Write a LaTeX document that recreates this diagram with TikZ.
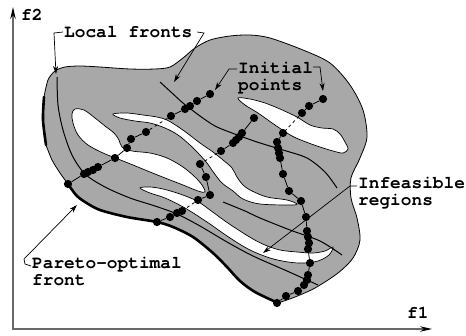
\documentclass[tikz,border=0pt]{standalone}
\usepackage{fontspec}
\setmonofont{texgyrecursor}[Extension=.otf, UprightFont=*-regular, BoldFont=*-bold]
\usetikzlibrary{arrows.meta}
\definecolor{feas}{RGB}{168,168,168}
\definecolor{axisgray}{RGB}{105,105,105}
\begin{document}
\begin{tikzpicture}[x=1pt,y=-1pt,
  lbl/.style={font=\ttfamily\bfseries\fontsize{17.8}{17}\selectfont, inner sep=0pt, align=left},
  dot/.style={circle, fill=black, inner sep=0pt, minimum size=8.2pt},
  chain/.style={line width=0.8pt},
  jump/.style={line width=0.8pt, dash pattern=on 3pt off 3pt},
  hole/.style={fill=white, draw=black, line width=0.7pt},
  lfront/.style={line width=1pt},
  ptr/.style={line width=0.7pt, -{Stealth[length=8pt,width=5pt]}},
  axis/.style={draw=axisgray, line width=1.2pt, -{Stealth[length=12pt,width=5.5pt,black]}},
  pfront/.style={line width=2.6pt, line cap=round}
]
\useasboundingbox (0,0) rectangle (466,335);

% feasible region
\filldraw[fill=feas, draw=black, line width=0.8pt]
  plot[smooth] coordinates {(68,184) (76,195) (85,202) (100,210) (127,217) (157,222) (173,227) (193,237) (213,253) (227,267) (240,281) (255,292) (278,303)}
  -- plot[smooth] coordinates {(278,303) (295,297) (315,288) (338,273) (353,258) (360,240) (357,218) (351,198) (351,178) (360,158) (367,137) (363,110) (350,85) (330,63) (303,50) (270,38) (250,35) (230,36) (210,40) (195,48) (183,58) (170,67) (155,69) (130,69) (100,67) (80,66) (65,67) (55,71) (48,80) (44,97)}
  -- plot[smooth] coordinates {(44,97) (43,120) (46,145)}
  -- plot[smooth] coordinates {(46,145) (52,160) (60,173) (68,184)}
  -- cycle;
\draw[pfront] plot[smooth] coordinates {(68,184) (76,195) (85,202) (100,210) (127,217) (157,222) (173,227) (193,237) (213,253) (227,267) (240,281) (255,292) (278,303)};
\draw[pfront] plot[smooth] coordinates {(44,97) (43,120) (46,145)};

% infeasible regions
\draw[hole] plot[smooth cycle, tension=0.55] coordinates {(75,109) (84,110) (95,118) (105,126) (114,133) (119,140) (122,147) (132,151) (150,153) (167,158) (183,167) (195,177) (202,185) (205,192) (198,191) (183,185) (165,178) (150,172) (133,165) (118,159) (103,153) (88,145) (78,135) (73,123) (72,114)};
\draw[hole] plot[smooth cycle, tension=0.55] coordinates {(113,114) (127,113) (143,115) (157,117) (167,120) (177,126) (187,133) (200,143) (213,152) (223,160) (232,168) (237,177) (243,185) (252,191) (267,197) (287,200) (297,204) (290,205) (260,204) (243,199) (233,191) (222,183) (214,173) (207,163) (199,154) (190,145) (178,135) (165,128) (150,123) (135,121) (120,118)};
\draw[hole] plot[smooth cycle, tension=0.55] coordinates {(140,188) (150,187) (163,189) (180,194) (197,201) (210,210) (225,221) (240,231) (253,239) (265,245) (280,250) (297,252) (313,253) (325,251) (333,247) (329,255) (318,261) (303,263) (288,262) (270,258) (250,250) (230,238) (207,222) (185,208) (165,198) (150,193)};
\draw[hole] plot[smooth cycle, tension=0.55] coordinates {(238,98) (250,99) (265,103) (280,109) (297,117) (310,125) (322,128) (333,129) (340,134) (345,142) (348,149) (343,153) (333,151) (320,147) (306,142) (292,136) (275,125) (258,113) (245,105)};

% local fronts
\draw[lfront] plot[smooth] coordinates {(57,77) (58,105) (63,130) (72,155) (85,174) (105,187) (130,198) (155,206) (177,214) (200,226) (227,242) (253,256) (287,271) (318,285)};
\draw[lfront] plot[smooth] coordinates {(160,82) (172,93) (183,103) (200,116) (215,126) (232,133) (257,142) (283,150) (307,158) (325,172) (337,188)};
\draw[lfront] plot[smooth] coordinates {(223,202) (245,211) (260,218) (290,230) (320,241) (342,255)};

% chain 1
\node[dot] (a1) at (210,94) {};
\node[dot] (a2) at (197,101) {};
\node[dot] (a3) at (190,106) {};
\node[dot] (a4) at (185,109) {};
\node[dot] (a5) at (171,116) {};
\node[dot] (a6) at (146,132) {};
\node[dot] (a7) at (131,139) {};
\node[dot] (a8) at (127,148) {};
\node[dot] (a9) at (115,158) {};
\node[dot] (a10) at (98,167) {};
\node[dot] (a11) at (93,170) {};
\node[dot] (a12) at (88,172) {};
\node[dot] (a13) at (84,174) {};
\node[dot] (a14) at (68,184) {};
\draw[chain] (a1)--(a2)--(a3)--(a4)--(a5);
\draw[jump] (a5)--(a6);
\draw[chain] (a6)--(a7)--(a8)--(a9)--(a10)--(a11)--(a12)--(a13)--(a14);

% chain 2
\node[dot] (b1) at (323,99) {};
\node[dot] (b2) at (309,106) {};
\node[dot] (b3) at (302,113) {};
\node[dot] (b4) at (283,133) {};
\node[dot] (b5) at (277,142) {};
\node[dot] (b6) at (278,148) {};
\node[dot] (b7) at (279,153) {};
\node[dot] (b8) at (280,158) {};
\node[dot] (b9) at (283,174) {};
\node[dot] (b10) at (289,191) {};
\node[dot] (b11) at (301,201) {};
\node[dot] (b12) at (306,217) {};
\node[dot] (b13) at (307,231) {};
\node[dot] (b14) at (308,237) {};
\node[dot] (b15) at (309,243) {};
\node[dot] (b16) at (308,249) {};
\node[dot] (b17) at (310,263) {};
\node[dot] (b18) at (308,275) {};
\node[dot] (b19) at (307,280) {};
\node[dot] (b20) at (304,285) {};
\node[dot] (b21) at (298,291) {};
\node[dot] (b22) at (286,296) {};
\node[dot] (b23) at (277,303) {};
\draw[chain] (b1)--(b2)--(b3);
\draw[jump] (b3)--(b4);
\draw[chain] (b4)--(b5)--(b6)--(b7)--(b8)--(b9)--(b10)--(b11)--(b12)--(b13)--(b14)--(b15)--(b16)--(b17)--(b18)--(b19)--(b20)--(b21)--(b22)--(b23);

% chain 3
\node[dot] (c1) at (254,118) {};
\node[dot] (c2) at (242,133) {};
\node[dot] (c3) at (239,137) {};
\node[dot] (c4) at (236,140) {};
\node[dot] (c5) at (233,143) {};
\node[dot] (c6) at (221,151) {};
\node[dot] (c7) at (200,164) {};
\node[dot] (c8) at (206,177) {};
\node[dot] (c9) at (210,195) {};
\node[dot] (c10) at (198,200) {};
\node[dot] (c11) at (182,211) {};
\node[dot] (c12) at (177,213) {};
\node[dot] (c13) at (170,217) {};
\node[dot] (c14) at (157,222) {};
\draw[chain] (c1)--(c2)--(c3)--(c4)--(c5)--(c6);
\draw[jump] (c6)--(c7);
\draw[chain] (c7)--(c8)--(c9)--(c10);
\draw[jump] (c10)--(c11);
\draw[chain] (c11)--(c12)--(c13)--(c14);

% axes
\coordinate (ytop) at (13,7);
\coordinate (xend) at (432,329);
\draw[axis] (13,330) -- (ytop);
\draw[axis] (12,329) -- (xend);
\node[lbl, anchor=base west] (f2) at (21,20) {f2};
\node[lbl, anchor=base west] (f1) at (407,318) {f1};

% labels
\node[lbl, anchor=base west] (lf) at (64,37) {Local fronts};
\node[lbl, anchor=north west] (ip) at (238,62) {Initial\\points};
\node[lbl, anchor=north west] (ir) at (358,177) {Infeasible\\regions};
\node[lbl, anchor=north west] (po) at (32,257) {Pareto-optimal\\front};

\coordinate (lfA) at (56,74);
\coordinate (lfB) at (174,82);
\coordinate (ipA) at (215,90);
\coordinate (ipB) at (323,91);
\coordinate (irA) at (263,253);
\coordinate (poA) at (77,205);
\draw[ptr] (63,32) -- (54,33) -- (lfA);
\draw[ptr] (197,32) -- (204,33) -- (lfB);
\draw[ptr] (237,69) -- (229,69) -- (ipA);
\draw[ptr] (313,67) -- (320,67) -- (ipB);
\draw[ptr] (357,186) -- (350,186) -- (irA);
\draw[ptr] (31,266) -- (25,264) -- (24,259) -- (poA);
\end{tikzpicture}
\end{document}
